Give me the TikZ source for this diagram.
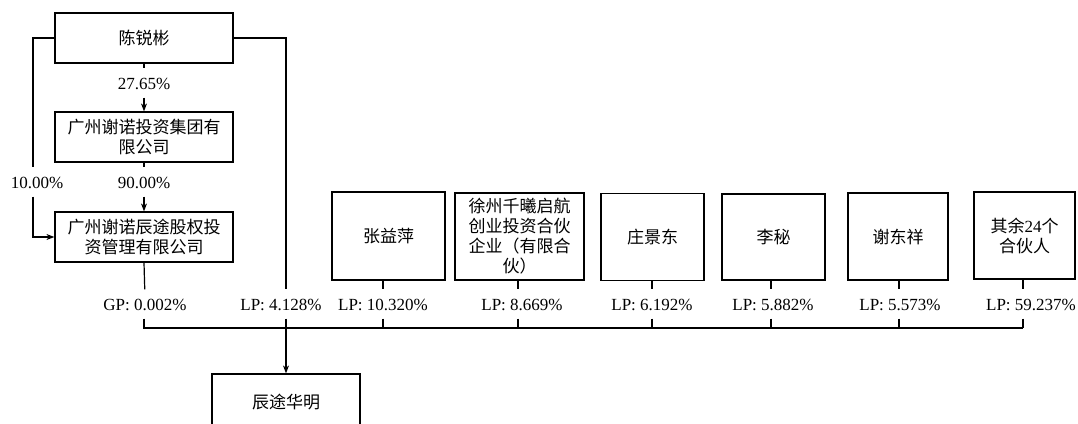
\documentclass[tikz,border=0pt]{standalone}
\usepackage{fontspec}
\setmainfont{Liberation Serif}
\newfontfamily\cjk{Noto Sans CJK SC}
\usetikzlibrary{arrows.meta}
\begin{document}
\begin{tikzpicture}[x=1pt,y=-1pt,
  box/.style={draw, line width=1.2pt, inner sep=0pt, align=center, font=\cjk\fontsize{17}{20}\selectfont},
  lbl/.style={inner sep=0pt, text height=12pt, text depth=3pt, font=\fontsize{17}{20}\selectfont},
  ln/.style={line width=1.2pt},
  arr/.style={ln, -{Stealth[length=8pt,width=6pt]}},
  tolbl/.style={shorten >=9pt},
  fromlbl/.style={shorten <=5pt}]
\useasboundingbox (0,0) rectangle (1078,423);
\clip (0,0) rectangle (1078,423);
% left column
\node[box, minimum width=178pt, minimum height=50pt] (p) at (144,38) {陈锐彬};
\node[box, minimum width=178pt, minimum height=50pt] (g1) at (144,137) {广州谢诺投资集团有\\限公司};
\node[box, minimum width=178pt, minimum height=50pt] (g2) at (144,237) {广州谢诺辰途股权投\\资管理有限公司};
% partners
\node[box, minimum width=113pt, minimum height=88pt] (b1) at (388.5,236) {张益萍};
\node[box, minimum width=129pt, minimum height=87pt] (b2) at (519.5,236.5) {徐州千曦启航\\创业投资合伙\\企业（有限合\\伙）};
\node[box, minimum width=103pt, minimum height=87pt] (b3) at (652.5,237) {庄景东};
\node[box, minimum width=103pt, minimum height=86pt] (b4) at (773.5,237) {李秘};
\node[box, minimum width=100pt, minimum height=87pt] (b5) at (898,236.5) {谢东祥};
\node[box, minimum width=101pt, minimum height=87pt] (b6) at (1024.5,235.5) {其余{\rmfamily 24}个\\合伙人};
% target
\node[box, minimum width=148pt, minimum height=56pt] (h) at (286,402) {辰途华明};
% labels
\node[lbl] (l27) at (144,85) {27.65\%};
\node[lbl] (l90) at (144,184) {90.00\%};
\node[lbl] (l10) at (37,184) {10.00\%};
\node[lbl] (gp) at (145,306) {GP: 0.002\%};
\node[lbl] (lp0) at (281,306) {LP: 4.128\%};
\node[lbl] (lp1) at (383,306) {LP: 10.320\%};
\node[lbl] (lp2) at (522,306) {LP: 8.669\%};
\node[lbl] (lp3) at (652,306) {LP: 6.192\%};
\node[lbl] (lp4) at (773,306) {LP: 5.882\%};
\node[lbl] (lp5) at (900,306) {LP: 5.573\%};
\node[lbl] (lp6) at (1031,306) {LP: 59.237\%};
% bus junctions
\coordinate (lx) at (33,0);
\coordinate (j0) at (144,328);
\coordinate (jL) at (286,328);
\coordinate (j1) at (383,328);
\coordinate (j2) at (518,328);
\coordinate (j3) at (652,328);
\coordinate (j4) at (771,328);
\coordinate (j5) at (899,328);
\coordinate (j6) at (1023,328);
% chain
\draw[ln, tolbl] (p.south) -- (l27.north);
\draw[arr, fromlbl] (l27.south) -- (g1.north);
\draw[ln, tolbl] (g1.south) -- (l90.north);
\draw[arr, fromlbl] (l90.south) -- (g2.north);
% left 10%
\draw[ln, tolbl] (p.west) -| (lx |- l10.north);
\draw[arr, fromlbl] (lx |- l10.south) |- (g2.west);
% right LP 4.128%
\draw[ln, tolbl] (p.east) -| (jL |- lp0.north);
\draw[arr, fromlbl] (jL |- lp0.south) -- (h.north);
% GP
\draw[ln, tolbl] (g2.south) -- (gp.north);
\draw[ln, fromlbl] (j0 |- gp.south) -- (j0) -- (j6);
% partner ticks
\foreach \b/\l/\j in {b1/lp1/j1, b2/lp2/j2, b3/lp3/j3, b4/lp4/j4, b5/lp5/j5, b6/lp6/j6} {
  \draw[ln, tolbl] (\j |- \b.south) -- (\j |- \l.north);
  \draw[ln, fromlbl] (\j |- \l.south) -- (\j);
}
\end{tikzpicture}
\end{document}
